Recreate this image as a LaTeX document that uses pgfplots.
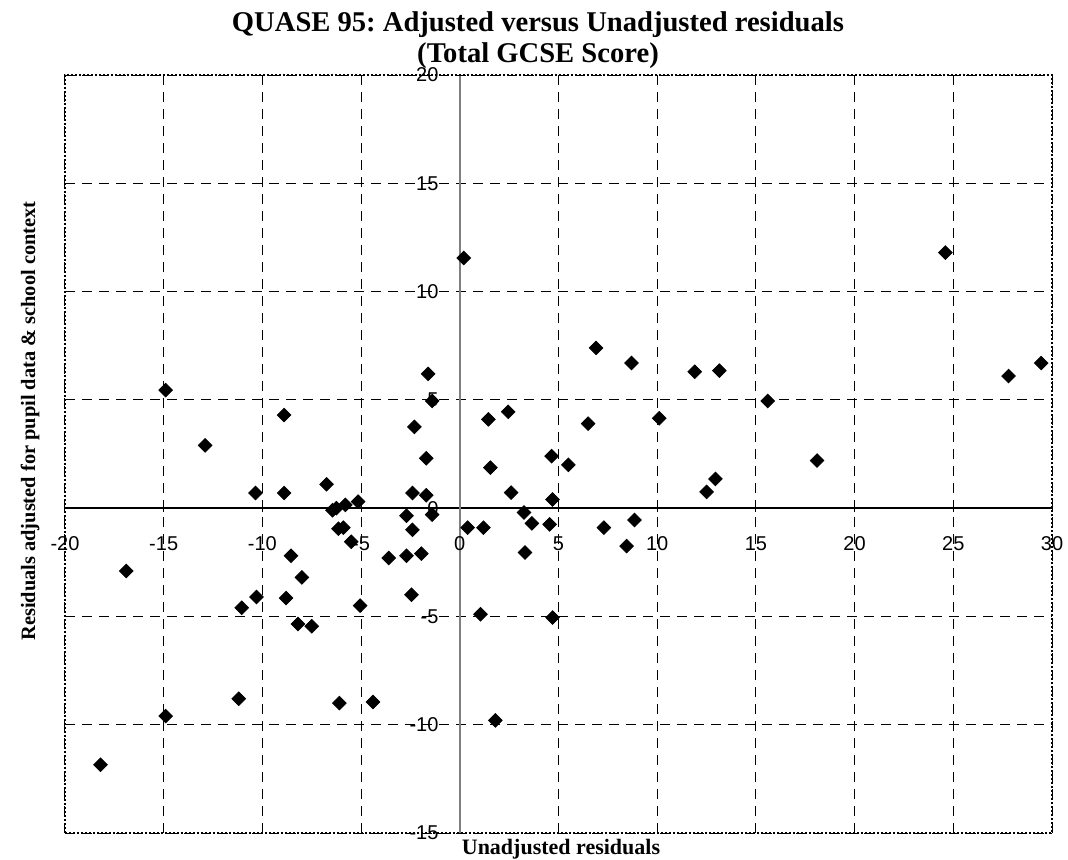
\documentclass[border=0pt]{standalone}
\usepackage{fontspec}
\setmainfont{Liberation Serif}
\newfontfamily\ticksans{Liberation Sans}
\usepackage{pgfplots}
\pgfplotsset{compat=1.18}
\frenchspacing
\begin{document}
\begin{tikzpicture}
\useasboundingbox (-32.5pt,-13pt) rectangle (501.5pt,416.5pt);
\begin{axis}[
  at={(0pt,0pt)}, anchor=south west,
  scale only axis, width=493.5pt, height=379pt,
  xmin=-20, xmax=30, ymin=-15, ymax=20,
  axis x line*=middle, axis y line*=middle,
  hide obscured x ticks=false, hide obscured y ticks=false,
  xtick={-20,-15,-10,-5,0,5,10,15,20,25,30},
  ytick={-15,-10,-5,0,5,10,15,20},
  xticklabels={-20,-15,-10,-5,0,5,10,15,20,25,30},
  yticklabels={-15,-10,-5,0,5,10,15,20},
  xticklabel style={font=\ticksans\fontsize{10}{12}\selectfont, anchor=north, inner sep=0pt, yshift=-12pt},
  yticklabel style={font=\ticksans\fontsize{10}{12}\selectfont, anchor=east, inner sep=0pt, xshift=-8.5pt},
  grid=major,
  major grid style={black, line width=0.5pt, dash pattern=on 5pt off 3.5pt},
  x axis line style={black, line width=0.9pt},
  y axis line style={gray, line width=0.9pt},
  tick style={black, line width=0.5pt},
  major tick length=4pt, tick align=center,
  clip=false,
]
\draw[black, line width=1pt, densely dotted] (rel axis cs:0,0) rectangle (rel axis cs:1,1);
\addplot[only marks, mark=square*, mark size=2.4pt, mark options={rotate=45, fill=black, draw=black}] table {
x y
-18.2 -11.85
-16.9 -2.9
-14.9 5.45
-14.9 -9.6
-12.9 2.9
-11.2 -8.8
-11.05 -4.6
-10.35 0.7
-10.3 -4.1
-8.9 4.3
-8.9 0.7
-8.8 -4.15
-8.55 -2.2
-8.2 -5.35
-8.0 -3.2
-7.5 -5.45
-6.75 1.1
-6.45 -0.1
-6.25 0.0
-5.8 0.15
-5.15 0.3
-6.15 -0.95
-5.9 -0.9
-5.5 -1.55
-6.1 -9.0
-5.05 -4.5
-4.4 -8.95
-3.6 -2.3
-2.7 -2.2
-1.95 -2.1
-2.7 -0.35
-1.4 -0.3
-2.4 -1.0
-2.4 0.7
-1.7 0.6
-1.7 2.3
-2.3 3.75
-1.6 6.2
-1.4 4.95
-2.45 -4.0
0.2 11.55
0.4 -0.9
1.2 -0.9
1.05 -4.9
1.8 -9.8
1.45 4.1
1.55 1.87
2.45 4.45
2.6 0.72
3.25 -0.2
3.65 -0.7
3.3 -2.05
4.55 -0.75
4.65 2.4
4.7 0.4
4.7 -5.05
5.5 2.0
6.5 3.9
6.9 7.4
7.3 -0.9
8.45 -1.75
8.85 -0.55
8.7 6.7
10.1 4.15
11.9 6.3
12.5 0.75
12.95 1.35
13.15 6.35
15.6 4.95
18.1 2.2
24.6 11.8
27.8 6.1
29.45 6.7
};
\end{axis}
\node[font=\bfseries\fontsize{14.3}{16}\selectfont, anchor=base] at (236.5pt,400.5pt) {QUASE 95: Adjusted versus Unadjusted residuals};
\node[font=\bfseries\fontsize{14.3}{16}\selectfont, anchor=base] at (236.5pt,385.5pt) {(Total GCSE Score)};
\node[font=\bfseries\fontsize{10.2}{12}\selectfont, rotate=90] at (-17.5pt,206pt) {Residuals adjusted for pupil data \& school context};
\node[font=\bfseries\fontsize{11}{13}\selectfont, anchor=base] at (248pt,-10.5pt) {Unadjusted residuals};
\end{tikzpicture}
\end{document}
